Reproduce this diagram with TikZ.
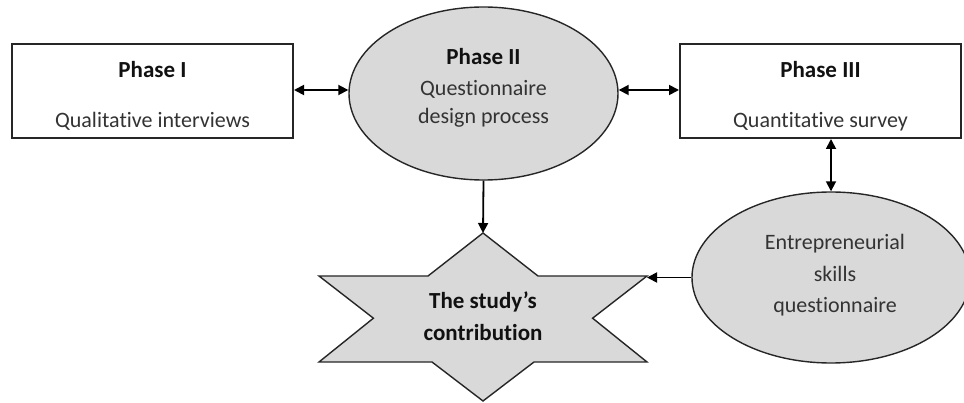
\documentclass[tikz,border=0pt]{standalone}
\usepackage{fontspec}
\setmainfont{Carlito}[Ligatures={NoCommon}]
\usetikzlibrary{arrows.meta,shapes.geometric}
\definecolor{shapefill}{HTML}{D9D9D9}
\definecolor{regtext}{HTML}{333333}
\definecolor{boldtext}{HTML}{111111}
\begin{document}
\begin{tikzpicture}[x=1pt,y=-1pt,
  boxsh/.style={draw=black!85, line width=2pt, fill=white, minimum width=281pt, minimum height=94pt, inner sep=0pt},
  ellsh/.style={ellipse, draw=black!85, line width=1.4pt, fill=shapefill, inner sep=0pt},
  tbold/.style={font=\fontsize{23}{27}\selectfont\bfseries, text=boldtext, anchor=base, inner sep=0pt},
  treg/.style={font=\fontsize{22}{26}\selectfont, text=regtext, anchor=base, inner sep=0pt},
  arr/.style={line width=1.8pt, -{Triangle[length=10pt,width=10pt]}},
  darr/.style={line width=1.8pt, {Triangle[length=10pt,width=10pt]}-{Triangle[length=10pt,width=10pt]}}
]
\useasboundingbox (0,0) rectangle (964,403);
% shapes
\node[boxsh] (p1) at (152.5,91) {};
\node[boxsh] (p3) at (820.5,91) {};
\node[ellsh, minimum width=269pt, minimum height=173pt] (p2) at (483.5,93.5) {};
\node[ellsh, minimum width=278pt, minimum height=171pt] (ent) at (831,277.5) {};
% star
\fill[shapefill, draw=black!85, line width=1.4pt]
  (483,233) -- (538,276) -- (647,276) -- (592.6,318.2) -- (647,362) -- (534,362)
  -- (483,401) -- (432,362) -- (319,362) -- (373.4,318.2) -- (319,276) -- (428,276) -- cycle;
\coordinate (startop) at (483,233);
\coordinate (starright) at (647,276);
% texts
\node[tbold] (t1a) at (152.5,78) {Phase I};
\node[treg] (t1b) at (152.5,128) {Qualitative interviews};
\node[tbold] (t2a) at (483.5,65) {Phase II};
\node[treg] (t2b) at (483.5,96) {Questionnaire};
\node[treg] (t2c) at (483.5,124) {design process};
\node[tbold] (t3a) at (820.5,78) {Phase III};
\node[treg] (t3b) at (820.5,128) {Quantitative survey};
\node[treg] (t4a) at (835,250) {Entrepreneurial};
\node[treg] (t4b) at (835,282) {skills};
\node[treg] (t4c) at (835,313) {questionnaire};
\node[tbold] (t5a) at (483,309) {The study’s};
\node[tbold] (t5b) at (483,341) {contribution};
% connectors
\draw[darr] (p1.east |- 0,90) -- (p2.west |- 0,90);
\draw[darr] (p2.east |- 0,90) -- (p3.west |- 0,90);
\draw[darr] (p3.south -| ent.north) -- (ent.north);
\draw[arr] (p2.south) -- (startop);
\draw[arr] (ent.west) -- (ent.west -| starright);
\end{tikzpicture}
\end{document}
